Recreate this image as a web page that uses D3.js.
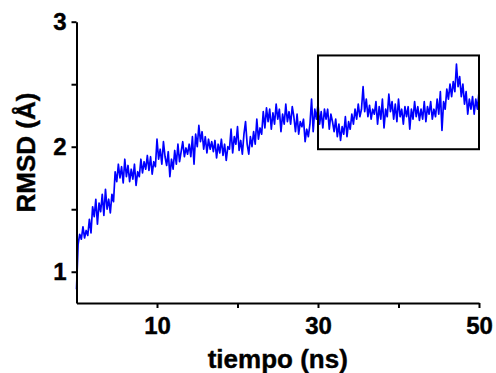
<!DOCTYPE html>
<html>
<head>
<meta charset="utf-8">
<script src="https://cdn.jsdelivr.net/npm/d3@7"></script>
<style>
  html, body { margin: 0; padding: 0; background: #fff; }
  svg { display: block; }
  text { font-family: "Liberation Sans", Arial, sans-serif; font-weight: bold; }
</style>
</head>
<body>
<svg id="chart" width="496" height="373"></svg>
<script>
// sampling step of the trajectory (ns)
const timeStep = 0.2;

// RMSD (Å), one value per frame
const rmsd = [
  0.86, 1.22, 1.30, 1.26, 1.36,  1.27, 1.33, 1.29, 1.42, 1.31,
  1.52, 1.44, 1.58, 1.38, 1.55,  1.48, 1.62, 1.45, 1.66, 1.50,
  1.58, 1.47, 1.62, 1.56, 1.80,  1.72, 1.86, 1.75, 1.84, 1.71,
  1.90, 1.76, 1.85, 1.72, 1.82,  1.74, 1.86, 1.69, 1.80, 1.76,
  1.90, 1.79, 1.88, 1.82, 1.93,  1.81, 1.92, 1.78, 1.88, 1.84,
  2.06, 1.90, 1.98, 1.86, 2.04,  1.92, 1.85, 1.96, 1.76, 1.90,
  1.82, 1.97, 1.86, 2.02, 1.88,  1.96, 2.04, 1.92, 1.99, 1.94,
  2.02, 1.92, 2.08, 1.86, 2.10,  2.00, 2.17, 2.04, 2.12, 1.98,
  2.08, 1.95, 2.06, 1.98, 2.04,  1.96, 2.05, 1.91, 2.02, 1.95,
  2.06, 1.93, 2.02, 1.89, 2.00,  1.98, 2.14, 1.95, 2.08, 2.02,
  2.16, 1.97, 2.05, 1.94, 2.10,  2.20, 2.02, 1.94, 2.08, 2.00,
  2.12, 2.02, 2.22, 2.06, 2.15,  2.10, 2.28, 2.15, 2.31, 2.20,
  2.30, 2.14, 2.27, 2.18, 2.34,  2.22, 2.30, 2.12, 2.26, 2.18,
  2.34, 2.20, 2.28, 2.18, 2.32,  2.24, 2.12, 2.26, 2.10, 2.20,
  2.16, 2.22, 2.04, 2.14, 2.08,  2.18, 2.38, 2.12, 2.30, 2.22,
  2.34, 2.18, 2.28, 2.15, 2.30,  2.22, 2.30, 2.14, 2.26, 2.20,
  2.12, 2.22, 2.08, 2.18, 2.05,  2.16, 2.10, 2.24, 2.08, 2.20,
  2.14, 2.26, 2.18, 2.30, 2.22,  2.34, 2.24, 2.30, 2.48, 2.28,
  2.38, 2.24, 2.33, 2.22, 2.30,  2.26, 2.36, 2.18, 2.32, 2.22,
  2.38, 2.15, 2.30, 2.24, 2.42,  2.28, 2.36, 2.22, 2.34, 2.20,
  2.38, 2.24, 2.30, 2.18, 2.32,  2.24, 2.32, 2.14, 2.30, 2.22,
  2.36, 2.24, 2.32, 2.21, 2.30,  2.22, 2.36, 2.20, 2.32, 2.26,
  2.36, 2.22, 2.30, 2.24, 2.38,  2.26, 2.44, 2.13, 2.36, 2.30,
  2.46, 2.38, 2.50, 2.40, 2.52,  2.44, 2.66, 2.48, 2.56, 2.40,
  2.50, 2.34, 2.44, 2.26, 2.38,  2.30, 2.40, 2.26, 2.38, 2.30,
  2.44
];

const xTicks = [10, 20, 30, 40, 50];
const xLabelled = [10, 30, 50];
const yTicks = [1, 1.5, 2, 2.5, 3];
const yLabelled = [1, 2, 3];

// highlighted window (ns, Å)
const boxTime = [30, 50];
const boxRmsd = [1.98, 2.73];

const xLabel = 'tiempo (ns)';
const yLabel = 'RMSD (Å)';

const svg = d3.select('#chart');

// Set the ranges
const xScale = d3.scaleLinear().domain([0, 50]).range([76.5, 479]);
const yScale = d3.scaleLinear().domain([0.75, 3]).range([303, 21.7]);

const frames = rmsd.map((v, i) => ({ t: i * timeStep, v: v }));

// draw the trace
const line = d3
  .line()
  .x((d) => xScale(d.t))
  .y((d) => yScale(d.v));

svg
  .append('path')
  .datum(frames)
  .attr('fill', 'none')
  .attr('stroke', '#0000ff')
  .attr('stroke-width', 1.7)
  .attr('stroke-linejoin', 'round')
  .attr('d', line);

// box around the last 20 ns
svg
  .append('rect')
  .attr('x', xScale(boxTime[0]))
  .attr('y', yScale(boxRmsd[1]))
  .attr('width', xScale(boxTime[1]) - xScale(boxTime[0]))
  .attr('height', yScale(boxRmsd[0]) - yScale(boxRmsd[1]))
  .attr('fill', 'none')
  .attr('stroke', '#000')
  .attr('stroke-width', 2);

// axes
const xAxis = svg
  .append('g')
  .attr('transform', `translate(0,${yScale(0.75)})`)
  .call(
    d3
      .axisBottom(xScale)
      .tickValues(xTicks)
      .tickSize(5)
      .tickSizeOuter(0)
      .tickPadding(9)
      .tickFormat((d) => (xLabelled.includes(d) ? d : ''))
  );

const yAxis = svg
  .append('g')
  .attr('transform', `translate(${xScale(0)},0)`)
  .call(
    d3
      .axisLeft(yScale)
      .tickValues(yTicks)
      .tickSize(5)
      .tickSizeOuter(0)
      .tickPadding(5)
      .tickFormat((d) => (yLabelled.includes(d) ? d : ''))
  );

[xAxis, yAxis].forEach((ax) => {
  ax.select('.domain').attr('stroke', '#000').attr('stroke-width', 2);
  ax.selectAll('.tick line').attr('stroke', '#000').attr('stroke-width', 2);
  ax.selectAll('.tick text')
    .attr('fill', '#000')
    .attr('stroke', '#000')
    .attr('stroke-width', 0.4)
    .attr('font-family', '"Liberation Sans", Arial, sans-serif')
    .attr('font-weight', 'bold')
    .attr('font-size', 24);
});

// axis titles
svg
  .append('text')
  .attr('x', (xScale(0) + xScale(50)) / 2)
  .attr('y', 368)
  .attr('text-anchor', 'middle')
  .attr('font-size', 26)
  .attr('stroke', '#000')
  .attr('stroke-width', 0.4)
  .text(xLabel);

svg
  .append('text')
  .attr('transform', 'translate(34.5,152.5) rotate(-90)')
  .attr('text-anchor', 'middle')
  .attr('font-size', 26)
  .attr('stroke', '#000')
  .attr('stroke-width', 0.4)
  .text(yLabel);
</script>
</body>
</html>
